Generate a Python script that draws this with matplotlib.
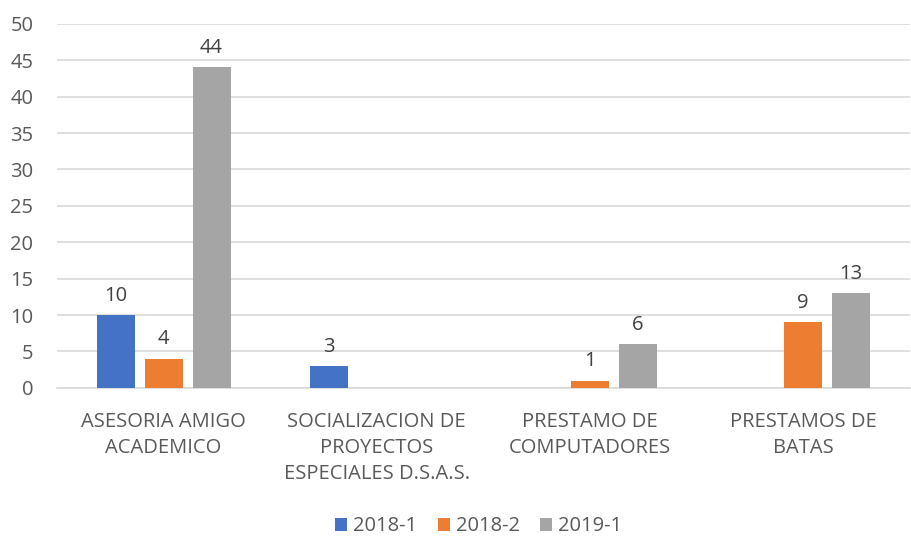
import numpy as np
import matplotlib
matplotlib.use("Agg")
import matplotlib.pyplot as plt

categories = ["ASESORIA AMIGO\nACADEMICO",
              "SOCIALIZACION DE\nPROYECTOS\nESPECIALES D.S.A.S.",
              "PRESTAMO DE\nCOMPUTADORES",
              "PRESTAMOS DE\nBATAS"]
series_names = ["2018-1", "2018-2", "2019-1"]
s2018_1 = [10, 3, np.nan, np.nan]
s2018_2 = [4, np.nan, 1, 9]
s2019_1 = [44, np.nan, 6, 13]
colors = ["#4472C4", "#ED7D31", "#A5A5A5"]

plt.rcParams['font.family'] = ['Open Sans', 'DejaVu Sans']
txt = "#595959"
fs = 14.5

fig = plt.figure(figsize=(9.12, 5.41), dpi=100)
ax = fig.add_axes([0.0625, 0.283, 0.935, 0.673])

x = np.arange(len(categories))
step = 0.225
width = 0.178
for i, (vals, name, c) in enumerate(zip([s2018_1, s2018_2, s2019_1], series_names, colors)):
    pos = x + (i - 1) * step
    ax.bar(pos, vals, width=width, color=c, label=name, zorder=3)
    for p, v in zip(pos, vals):
        if not np.isnan(v):
            ax.text(p, v + 1.3, f"{int(v)}", ha="center", va="bottom",
                    fontsize=fs, color="#404040")

ax.set_xlim(-0.5, 3.5)
ax.set_ylim(0, 50)
ax.set_yticks(np.arange(0, 51, 5))
ax.yaxis.grid(True, color="#D9D9D9", linewidth=1.2, zorder=0)
ax.set_axisbelow(True)
for s in ["top", "right", "left"]:
    ax.spines[s].set_visible(False)
ax.spines["bottom"].set_color("#D9D9D9")
ax.spines["bottom"].set_linewidth(1.2)
ax.tick_params(axis="both", length=0, colors=txt, labelsize=fs)
ax.tick_params(axis="y", pad=17)
ax.set_xticks(x)
ax.set_xticklabels(categories, linespacing=1.4)
ax.tick_params(axis="x", pad=17)

handles, labels = ax.get_legend_handles_labels()
fig.legend(handles, labels, loc="lower center", bbox_to_anchor=(0.525, -0.025), ncol=3,
           frameon=False, fontsize=fs, labelcolor=txt, handlelength=0.6,
           handleheight=0.6, handletextpad=0.3, columnspacing=1.0)

fig.savefig("out.png", dpi=100)
